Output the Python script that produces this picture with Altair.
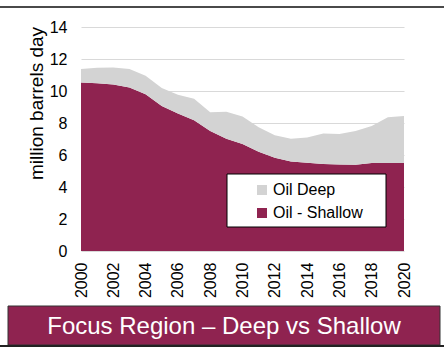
import altair as alt
import pandas as pd

years = list(range(2000, 2021))
shallow = [10.53, 10.49, 10.41, 10.22, 9.80, 9.07, 8.59, 8.17, 7.50, 7.02, 6.69,
           6.21, 5.83, 5.60, 5.52, 5.43, 5.41, 5.39, 5.50, 5.50, 5.50]
deep = [0.84, 0.96, 1.06, 1.15, 1.15, 1.11, 1.17, 1.34, 1.17, 1.69, 1.71,
        1.52, 1.40, 1.42, 1.58, 1.92, 1.90, 2.11, 2.31, 2.86, 2.94]
series_names = ["Oil Deep", "Oil - Shallow"]
series_colors = ["#d3d3d3", "#8f2350"]
y_ticks = [0, 2, 4, 6, 8, 10, 12, 14]
x_ticks = list(range(2000, 2021, 2))
y_title = "million barrels day"
banner = "Focus Region \u2013 Deep vs Shallow"

rows = []
for i, yr in enumerate(years):
    rows.append({"year": yr, "series": "Oil - Shallow", "value": shallow[i], "ord": 0})
    rows.append({"year": yr, "series": "Oil Deep", "value": deep[i], "ord": 1})
df = pd.DataFrame(rows)

area = alt.Chart(df).mark_area(opacity=1).encode(
    x=alt.X("year:Q", scale=alt.Scale(domain=[2000, 2020], nice=False, zero=False),
            axis=alt.Axis(values=x_ticks, format="d", title=None, labelAngle=270,
                          labelAlign="right", labelBaseline="middle", labelPadding=11,
                          ticks=False, tickSize=0, domain=False, grid=False,
                          labelFontSize=16, labelColor="#000")),
    y=alt.Y("value:Q", stack="zero", scale=alt.Scale(domain=[0, 14], nice=False),
            axis=alt.Axis(values=y_ticks, title=y_title, ticks=False, tickSize=0,
                          domain=False, grid=True, gridColor="#d9d9d9", gridWidth=1,
                          labelPadding=14, labelFontSize=16, labelColor="#000",
                          titleFontSize=19, titleFontWeight="normal", titleColor="#000",
                          titleAngle=270, titleX=-39, titleY=76, titleAlign="center",
                          titleBaseline="alphabetic")),
    color=alt.Color("series:N", scale=alt.Scale(domain=series_names, range=series_colors),
                    legend=alt.Legend(title=None, orient="none", legendX=173, legendY=155,
                                      padding=0, symbolType="square", symbolSize=100,
                                      symbolStrokeWidth=0, labelFontSize=16, labelOffset=3,
                                      rowPadding=7, labelColor="#000")),
    order=alt.Order("ord:Q"),
)

one = alt.Data(values=[{}])

legend_box = alt.Chart(one).mark_rect(fill="white", stroke="#000", strokeWidth=1).encode(
    x=alt.value(146), x2=alt.value(305), y=alt.value(147), y2=alt.value(200))

top_line = alt.Chart(one).mark_rule(color="#4a4a4a", strokeWidth=2).encode(
    x=alt.value(-81), x2=alt.value(363), y=alt.value(-20))

bottom_line = alt.Chart(one).mark_rule(color="#222", strokeWidth=2).encode(
    x=alt.value(-81), x2=alt.value(363), y=alt.value(319))

banner_rect = alt.Chart(one).mark_rect(fill="#8f2350", stroke="#333", strokeWidth=1).encode(
    x=alt.value(-73), x2=alt.value(359), y=alt.value(279), y2=alt.value(318))

banner_text = alt.Chart(one).mark_text(text=banner, color="white", fontSize=24,
                                       align="center", baseline="alphabetic").encode(
    x=alt.value(143), y=alt.value(307))

chart = alt.layer(area, legend_box, top_line, banner_rect, bottom_line, banner_text).properties(
    width=323, height=224,
    padding={"left": 81, "top": 27, "right": 40, "bottom": 96},
    autosize="none",
).configure(font="Liberation Sans").configure_view(stroke=None)

chart.save("out.html", embed_options={"renderer": "svg", "actions": False})
